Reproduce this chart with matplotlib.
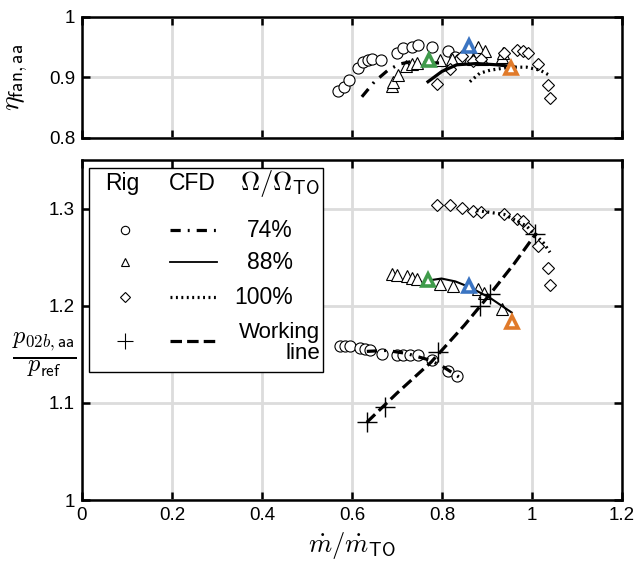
import numpy as np
import matplotlib.pyplot as plt
from matplotlib.patches import Rectangle

plt.rcParams['font.family'] = ['Liberation Sans', 'DejaVu Sans']
plt.rcParams['mathtext.fontset'] = 'cm'

# ---- rig data ----
# 74% speed, circles
CIRC_X_TOP = [0.570, 0.582, 0.594, 0.614, 0.625, 0.636, 0.644, 0.664, 0.699, 0.714, 0.733, 0.747, 0.777, 0.814, 0.829, 0.840]
CIRC_ETA = [0.877, 0.885, 0.895, 0.915, 0.926, 0.929, 0.930, 0.929, 0.941, 0.948, 0.951, 0.954, 0.951, 0.943, 0.934, 0.930]
CIRC_X = [0.573, 0.584, 0.596, 0.618, 0.629, 0.640, 0.666, 0.699, 0.714, 0.729, 0.747, 0.777, 0.814, 0.833]
CIRC_PR = [1.159, 1.159, 1.159, 1.156, 1.155, 1.154, 1.150, 1.149, 1.149, 1.149, 1.149, 1.144, 1.133, 1.128]

# 88% speed, triangles
TRI_X_TOP = [0.688, 0.692, 0.703, 0.720, 0.733, 0.744, 0.796, 0.822, 0.870, 0.881, 0.888, 0.896, 0.933, 0.936]
TRI_ETA = [0.886, 0.892, 0.904, 0.919, 0.923, 0.924, 0.929, 0.931, 0.930, 0.950, 0.930, 0.944, 0.934, 0.940]
TRI_X = [0.688, 0.699, 0.722, 0.733, 0.744, 0.796, 0.825, 0.881, 0.893, 0.933]
TRI_PR = [1.233, 1.232, 1.231, 1.229, 1.227, 1.222, 1.220, 1.217, 1.213, 1.197]

# highlighted 88% points: green, blue, orange
HI_X_TOP = [0.772, 0.861, 0.953]
HI_ETA = [0.929, 0.952, 0.916]
HI_X = [0.770, 0.861, 0.955]
HI_PR = [1.226, 1.220, 1.183]
HI_COLORS = ['#3f9b4b', '#3a74c2', '#e07a2a']

# 100% speed, diamonds
DIA_X = [0.788, 0.818, 0.844, 0.868, 0.887, 0.938, 0.967, 0.981, 0.992, 1.014, 1.036, 1.041]
DIA_ETA = [0.890, 0.914, 0.935, 0.928, 0.930, 0.940, 0.945, 0.943, 0.941, 0.922, 0.888, 0.866]
DIA_PR = [1.304, 1.304, 1.301, 1.298, 1.296, 1.294, 1.289, 1.287, 1.280, 1.261, 1.239, 1.221]

# working line, plus markers
WL_X = [0.633, 0.673, 0.792, 0.884, 0.907, 1.007]
WL_PR = [1.080, 1.096, 1.152, 1.200, 1.212, 1.274]

# ---- CFD lines ----
CFD74_X_TOP = [0.622, 0.650, 0.680, 0.705, 0.730]
CFD74_ETA = [0.868, 0.893, 0.912, 0.922, 0.926]
CFD74_X = [0.633, 0.677, 0.720, 0.773, 0.803, 0.840]
CFD74_PR = [1.153, 1.154, 1.151, 1.144, 1.137, 1.126]

CFD88_X_TOP = [0.762, 0.790, np.nan, 0.769, 0.800, 0.833, 0.877, 0.920, 0.959]
CFD88_ETA = [0.924, 0.924, np.nan, 0.893, 0.910, 0.921, 0.923, 0.921, 0.918]
CFD88_X = [0.770, 0.799, 0.830, 0.862, 0.907, 0.955]
CFD88_PR = [1.226, 1.228, 1.225, 1.219, 1.208, 1.193]

CFD100_X_TOP = [0.862, 0.884, 0.907, 0.951, 0.988, 1.018, 1.038]
CFD100_ETA = [0.893, 0.907, 0.912, 0.917, 0.917, 0.912, 0.904]
CFD100_X = [0.877, 0.938, 0.988, 1.025, 1.040]
CFD100_PR = [1.298, 1.294, 1.282, 1.265, 1.255]

WL_LINE_X = [0.633, 0.700, 0.776, 0.850, 0.907, 0.960, 1.010]
WL_LINE_PR = [1.080, 1.110, 1.142, 1.180, 1.212, 1.243, 1.275]

X_TICKS = [0, 0.2, 0.4, 0.6, 0.8, 1.0, 1.2]
X_LABELS = ['0', '0.2', '0.4', '0.6', '0.8', '1', '1.2']
ETA_TICKS = [0.8, 0.9, 1.0]
ETA_LABELS = ['0.8', '0.9', '1']
PR_TICKS = [1.0, 1.1, 1.2, 1.3]
PR_LABELS = ['1', '1.1', '1.2', '1.3']

LEG_SPEEDS = ['74%', '88%', '100%']

DASHDOT = (0, (3.2, 2.2, 0.6, 2.2))
SOLID = '-'
DOTTED = (0, (0.6, 1.1))
DASHED = (0, (3.6, 1.6))
LW = 2.3
MS = 8

fig = plt.figure(figsize=(6.34, 5.65), dpi=100)
ax1 = fig.add_axes([0.1293, 0.7558, 0.8517, 0.2142])
ax2 = fig.add_axes([0.1293, 0.1150, 0.8517, 0.6018])

open_kw = dict(linestyle='none', markerfacecolor='white', markeredgecolor='black',
               markeredgewidth=0.8, markersize=MS, zorder=3)

# top panel
ax1.plot(CIRC_X_TOP, CIRC_ETA, marker='o', **open_kw)
ax1.plot(TRI_X_TOP, TRI_ETA, marker='^', **open_kw)
ax1.plot(DIA_X, DIA_ETA, marker='D', **dict(open_kw, markersize=MS - 1.5))
ax1.plot(CFD74_X_TOP, CFD74_ETA, color='black', lw=LW, linestyle=DASHDOT, zorder=4)
ax1.plot(CFD88_X_TOP, CFD88_ETA, color='black', lw=LW, linestyle=SOLID, zorder=4)
ax1.plot(CFD100_X_TOP, CFD100_ETA, color='black', lw=LW, linestyle=DOTTED, zorder=4)
for x, y, c in zip(HI_X_TOP, HI_ETA, HI_COLORS):
    ax1.plot(x, y, marker='^', markerfacecolor='white', markeredgecolor=c,
             markeredgewidth=2.6, markersize=MS, linestyle='none', zorder=5)

# bottom panel
ax2.plot(CIRC_X, CIRC_PR, marker='o', **open_kw)
ax2.plot(TRI_X, TRI_PR, marker='^', **open_kw)
ax2.plot(DIA_X, DIA_PR, marker='D', **dict(open_kw, markersize=MS - 1.5))
ax2.plot(CFD74_X, CFD74_PR, color='black', lw=LW, linestyle=DASHDOT, zorder=4)
ax2.plot(CFD88_X, CFD88_PR, color='black', lw=LW - 0.8, linestyle=SOLID, zorder=4)
ax2.plot(CFD100_X, CFD100_PR, color='black', lw=LW, linestyle=DOTTED, zorder=4)
ax2.plot(WL_LINE_X, WL_LINE_PR, color='black', lw=LW, linestyle=DASHED, zorder=4)
ax2.plot(WL_X, WL_PR, marker='+', linestyle='none', color='black', markersize=14,
         markeredgewidth=1.0, zorder=5)
for x, y, c in zip(HI_X, HI_PR, HI_COLORS):
    ax2.plot(x, y, marker='^', markerfacecolor='white', markeredgecolor=c,
             markeredgewidth=2.6, markersize=MS, linestyle='none', zorder=5)

for ax in (ax1, ax2):
    ax.set_xlim(0, 1.2)
    ax.set_xticks(X_TICKS)
    ax.grid(True, color='#dcdcdc', lw=2)
    ax.set_axisbelow(True)
    ax.tick_params(direction='in', top=True, right=True, length=6, width=1.8,
                   labelsize=13.5, pad=5)
    for s in ax.spines.values():
        s.set_linewidth(1.8)

ax1.set_ylim(0.8, 1.0)
ax1.set_yticks(ETA_TICKS)
ax1.set_yticklabels(ETA_LABELS)
ax1.set_xticklabels([])
ax1.set_ylabel(r'$\eta_{\mathsf{fan,aa}}$', fontsize=20, labelpad=0)
ax1.yaxis.set_label_coords(-0.097, 0.5)

ax2.set_ylim(1.0, 1.35)
ax2.set_yticks(PR_TICKS)
ax2.set_yticklabels(PR_LABELS)
ax2.set_xticklabels(X_LABELS)
ax2.set_xlabel(r'$\dot{m}/\dot{m}_{\mathsf{TO}}$', fontsize=19, labelpad=4)
ax2.set_ylabel(r'$\frac{p_{02b,\mathsf{aa}}}{p_{\mathsf{ref}}}$', fontsize=25,
               rotation=0, ha='center', va='center')
ax2.yaxis.set_label_coords(-0.07, 0.425)

# hand-built legend table
T = ax2.transAxes
ax2.add_patch(Rectangle((0.013, 0.376), 0.433, 0.600, transform=T, facecolor='white',
                        edgecolor='black', lw=1.0, zorder=6))
ax2.text(0.075, 0.930, 'Rig', transform=T, ha='center', va='center', fontsize=16.5, zorder=7)
ax2.text(0.204, 0.930, 'CFD', transform=T, ha='center', va='center', fontsize=16.5, zorder=7)
ax2.text(0.366, 0.930, r'$\Omega/\Omega_{\mathsf{TO}}$', transform=T, ha='center',
         va='center', fontsize=19, zorder=7)

row_y = [0.794, 0.700, 0.597, 0.468]
leg_markers = ['o', '^', 'D', '+']
leg_styles = [DASHDOT, SOLID, DOTTED, DASHED]
leg_lw = [LW, 1.3, LW, LW]
for i, y in enumerate(row_y):
    m = leg_markers[i]
    ax2.plot([0.080], [y], transform=T, marker=m, linestyle='none', color='black',
             markerfacecolor='white', markeredgewidth=0.8,
             markersize=12 if m == '+' else (5 if m == 'D' else 6), zorder=7)
    ax2.plot([0.163, 0.250], [y, y], transform=T, color='black', lw=leg_lw[i],
             linestyle=leg_styles[i], zorder=7)
for y, s in zip(row_y[:3], LEG_SPEEDS):
    ax2.text(0.391, y, s, transform=T, ha='right', va='center', fontsize=16.5, zorder=7)
ax2.text(0.441, 0.462, 'Working\nline', transform=T, ha='right', va='center',
         multialignment='right', fontsize=16, linespacing=0.95, zorder=7)

plt.savefig('out.png')
